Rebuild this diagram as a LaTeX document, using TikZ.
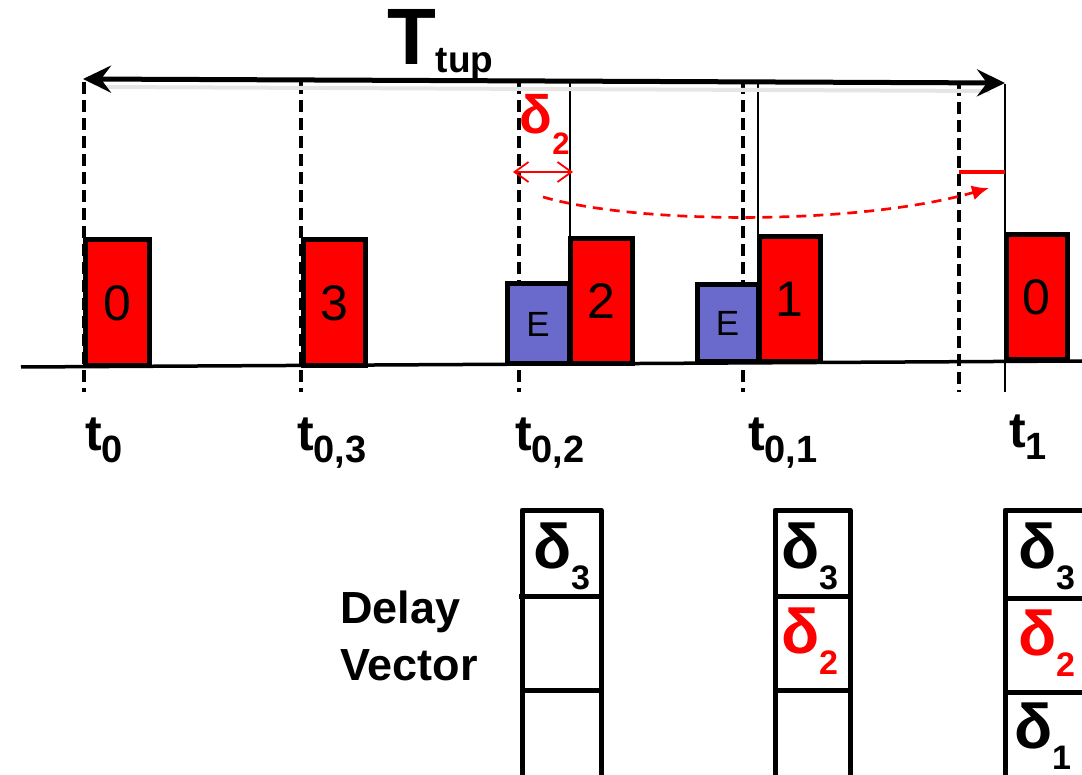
\documentclass[tikz,border=0pt]{standalone}
\usepackage{fontspec}
\setmainfont{Liberation Sans}
\usetikzlibrary{arrows.meta}

\definecolor{pktred}{RGB}{255,0,0}
\definecolor{evtblue}{RGB}{106,106,204}

% time label t with a lowered subscript
\newcommand\tmark[1]{{\fontsize{50}{50}\selectfont\bfseries t}\raisebox{-13pt}{\fontsize{38}{38}\selectfont\bfseries #1}}
% delay entry delta_i in the vector cells
\newcommand\dcell[1]{{\fontsize{63}{63}\selectfont\bfseries δ}\raisebox{-21pt}{\fontsize{34}{34}\selectfont\bfseries #1}}

\tikzset{
  pkt/.style={draw=black, line width=5pt, fill=pktred, inner sep=0pt, outer sep=0pt,
    anchor=south west, font=\fontsize{50}{50}\selectfont},
  evt/.style={pkt, fill=evtblue, font=\fontsize{35}{35}\selectfont},
  guide/.style={line width=4pt, dash pattern=on 12pt off 6pt},
  thinmark/.style={line width=1.3pt},
  lbl/.style={inner sep=0pt, outer sep=0pt, anchor=base west},
  vgrid/.style={line width=5pt, line join=round},
}

\begin{document}
\begin{tikzpicture}[x=1pt, y=-1pt]
\useasboundingbox (0,0) rectangle (1082,775);
\clip (0,0) rectangle (1082,775);

% ---- vertical guides ----
\coordinate (g0t) at (84,82);   \coordinate (g0b) at (84,392);
\coordinate (g3t) at (301,82);  \coordinate (g3b) at (301,392);
\coordinate (g2t) at (519,82);  \coordinate (g2b) at (519,392);
\coordinate (g1t) at (743,82);  \coordinate (g1b) at (743,392);
\coordinate (gxt) at (959,84);  \coordinate (gxb) at (959,392);
\draw[guide] (g0t) -- (g0b);
\draw[guide] (g3t) -- (g3b);
\draw[guide] (g2t) -- (g2b);
\draw[guide] (g1t) -- (g1b);
\draw[guide] (gxt) -- (gxb);

\coordinate (s2t) at (570,82);  \coordinate (s2b) at (570,240);
\coordinate (s1t) at (758,82);  \coordinate (s1b) at (758,238);
\coordinate (s0t) at (1005,84); \coordinate (s0b) at (1005,392);
\draw[thinmark] (s2t) -- (s2b);
\draw[thinmark] (s1t) -- (s1b);
\draw[thinmark] (s0t) -- (s0b);

% ---- time axis ----
\coordinate (axL) at (21,367);
\coordinate (axR) at (1082,361);
\draw[line width=3.5pt] (axL) -- (axR);

% ---- packets and events ----
\node[pkt, minimum width=64pt, minimum height=126pt] (p0)  at (85,366)  {0};
\node[pkt, minimum width=62pt, minimum height=126pt] (p3)  at (303,366) {3};
\node[evt, minimum width=62pt, minimum height=80pt]  (e2)  at (507,364) {E};
\node[pkt, minimum width=62pt, minimum height=125pt] (p2)  at (570,364) {2};
\node[evt, minimum width=61pt, minimum height=77pt]  (e1)  at (697,362) {E};
\node[pkt, minimum width=61pt, minimum height=125pt] (p1)  at (759,362) {1};
\node[pkt, minimum width=61pt, minimum height=125pt] (p0n) at (1006,360) {0};

% ---- time labels ----
\node[lbl] (t0)  at (85,450)   {\tmark{0}};
\node[lbl] (t03) at (297,450)  {\tmark{0,3}};
\node[lbl] (t02) at (515,450)  {\tmark{0,2}};
\node[lbl] (t01) at (748,450)  {\tmark{0,1}};
\node[lbl] (t1)  at (1009,447) {\tmark{1}};

% ---- tuple period ----
\coordinate (tupL) at (83,79);
\coordinate (tupR) at (1005,83);
\coordinate (shL) at (100,87);
\coordinate (shR) at (990,91);
\draw[line width=4pt, black!10] (shL) -- (shR);
\draw[line width=5pt, {Stealth[length=28pt, width=27pt, inset=10pt]}-{Stealth[length=28pt, width=27pt, inset=10pt]}] (tupL) -- (tupR);
\node[lbl] (ttup) at (387,65) {{\fontsize{80}{80}\selectfont\bfseries T}\raisebox{-8pt}{\fontsize{37}{37}\selectfont\bfseries tup}};

% ---- delay delta_2 ----
\coordinate (dL) at (513,172);
\coordinate (dR) at (573,172);
\draw[pktred, line width=1.8pt, {Straight Barb[length=14pt, width=20pt]}-{Straight Barb[length=14pt, width=20pt]}] (dL) -- (dR);
\node[lbl, text=pktred] (d2lbl) at (519.5,134) {{\fontsize{54}{54}\selectfont\bfseries δ}\raisebox{-21pt}{\fontsize{31}{31}\selectfont\bfseries 2}};

\coordinate (mkL) at (959,172);
\coordinate (mkR) at (1005,172);
\draw[pktred, line width=4pt] (mkL) -- (mkR);

\coordinate (cvA) at (543,197);
\coordinate (cvB) at (989,188);
\draw[pktred, line width=2.7pt, dash pattern=on 10pt off 7pt, -{Latex[length=17pt, width=15pt]}]
  (cvA) .. controls (640,225) and (860,225) .. (cvB);

% ---- delay vectors ----
\node[lbl] (delay)  at (340,623) {\fontsize{45}{45}\selectfont\bfseries Delay};
\node[lbl] (vector) at (340,680) {\fontsize{45}{45}\selectfont\bfseries Vector};

% column at t_{0,2}
\coordinate (a1) at (522,790); \coordinate (a2) at (522,510);
\coordinate (a3) at (601,510); \coordinate (a4) at (601,790);
\draw[vgrid] (a1) -- (a2) -- (a3) -- (a4);
\coordinate (a5) at (519,596); \coordinate (a6) at (604,596);
\coordinate (a7) at (522,690); \coordinate (a8) at (601,690);
\draw[vgrid] (a5) -- (a6);
\draw[vgrid] (a7) -- (a8);
\node[lbl] (va3) at (533,568) {\dcell{3}};

% column at t_{0,1}
\coordinate (b1) at (775,790); \coordinate (b2) at (775,510);
\coordinate (b3) at (850,510); \coordinate (b4) at (850,790);
\draw[vgrid] (b1) -- (b2) -- (b3) -- (b4);
\coordinate (b5) at (775,596); \coordinate (b6) at (850,596);
\coordinate (b7) at (775,690); \coordinate (b8) at (850,690);
\draw[vgrid] (b5) -- (b6);
\draw[vgrid] (b7) -- (b8);
\node[lbl] (vb3) at (781,568) {\dcell{3}};
\node[lbl, text=pktred] (vb2) at (781,653) {\dcell{2}};

% column at t_1
\coordinate (c1) at (1005,790); \coordinate (c2) at (1005,510);
\coordinate (c3) at (1090,510); \coordinate (c4) at (1090,790);
\draw[vgrid] (c1) -- (c2) -- (c3) -- (c4);
\coordinate (c5) at (1005,598); \coordinate (c6) at (1090,598);
\coordinate (c7) at (1005,692); \coordinate (c8) at (1090,692);
\draw[vgrid] (c5) -- (c6);
\draw[vgrid] (c7) -- (c8);
\node[lbl] (vc3) at (1018,568) {\dcell{3}};
\node[lbl, text=pktred] (vc2) at (1018,655) {\dcell{2}};
\node[lbl] (vc1) at (1014,748) {\dcell{1}};
\end{tikzpicture}
\end{document}
